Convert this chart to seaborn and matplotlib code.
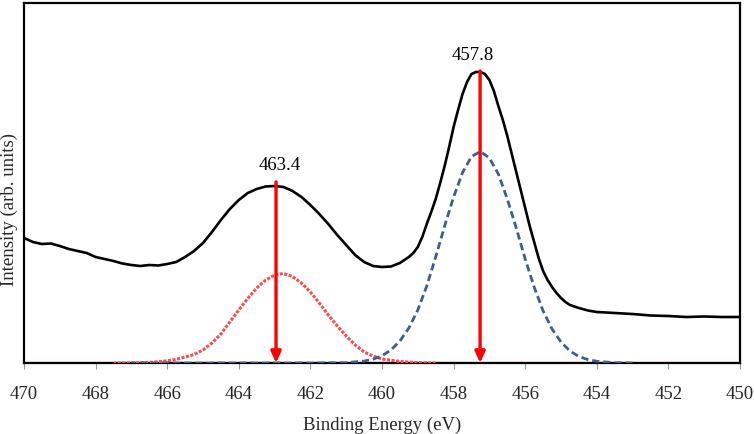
import numpy as np
import pandas as pd
import matplotlib
matplotlib.use("Agg")
import matplotlib.pyplot as plt
import seaborn as sns

energy = [470.0, 469.75, 469.5, 469.25, 469.0, 468.75, 468.5, 468.25, 468.0, 467.75,
          467.5, 467.25, 467.0, 466.75, 466.5, 466.25, 466.0, 465.75, 465.5, 465.25,
          465.0, 464.75, 464.5, 464.25, 464.0, 463.75, 463.5, 463.25, 463.0, 462.75,
          462.5, 462.25, 462.0, 461.75, 461.5, 461.25, 461.0, 460.75, 460.5, 460.25,
          460.0, 459.75, 459.5, 459.25, 459.125, 459.0, 458.875, 458.75, 458.625, 458.5,
          458.375, 458.25, 458.125, 458.0, 457.875, 457.75, 457.625, 457.5, 457.375, 457.25,
          457.125, 457.0, 456.875, 456.75, 456.625, 456.5, 456.375, 456.25, 456.125, 456.0,
          455.875, 455.75, 455.625, 455.5, 455.375, 455.25, 455.125, 455.0, 454.875, 454.75,
          454.5, 454.25, 454.0, 453.5, 453.0, 452.5, 452.0, 451.5, 451.0, 450.5,
          450.0]
intensity = [125, 121, 119, 119.5, 117, 114, 112, 110, 106, 104,
             102, 99.5, 98, 97, 98, 97.5, 99, 101, 106, 112,
             120, 131, 143, 154, 163, 170, 174, 176.5, 177, 176,
             172, 166, 158, 149, 139, 128, 118, 108, 101, 97,
             96, 96.5, 100, 106, 110, 116, 126, 139, 151, 164,
             180, 197, 216, 236, 253, 269, 281, 289, 291, 291,
             289, 283, 272, 257, 243, 227, 209, 191, 173, 155,
             137, 121, 105, 92, 83, 76, 70, 65, 61, 58,
             55, 52.5, 51, 50, 49, 47.5, 47, 46, 46.5, 46,
             46]

# fitted component at ~463 eV (red, dotted)
red_energy = [467.5, 467.0, 466.5, 466.0, 465.75, 465.5, 465.25, 465.0, 464.75, 464.5,
              464.25, 464.0, 463.75, 463.5, 463.25, 463.0, 462.75, 462.5, 462.25, 462.0,
              461.75, 461.5, 461.25, 461.0, 460.75, 460.5, 460.25, 460.0, 459.5, 459.0,
              458.5]
red_counts = [0, 0.1, 0.6, 2.1, 3.7, 6.0, 8.5, 13, 20, 29,
              41, 53, 64.5, 75, 83, 88, 89.5, 86.5, 80, 71,
              60, 48, 37, 27, 18, 11, 7, 4, 1.5, 0.4,
              0]

# fitted component at ~457 eV (blue, dashed)
blue_energy = [467.0, 462.0, 461.0, 460.5, 460.25, 460.0, 459.75, 459.5, 459.25, 459.0,
               458.75, 458.5, 458.25, 458.0, 457.75, 457.5, 457.25, 457.0, 456.75, 456.5,
               456.25, 456.0, 455.75, 455.5, 455.25, 455.0, 454.75, 454.5, 454.25, 454.0,
               453.5, 453.0]
blue_counts = [0, 0, 0.4, 1.9, 3.8, 7.2, 13, 22, 35, 53,
               77, 106, 137, 166, 190.5, 206.5, 211.5, 205, 189, 164,
               135, 104, 76, 52, 34, 21, 12, 6.5, 3.4, 1.7,
               0.3, 0]

# peak markers
peak_pos = [462.96, 457.26]
peak_top = [181, 292]
peak_text = ["463.4", "457.8"]
label_pos = [462.85, 457.46]
label_y = [198, 308]

xticks = list(range(470, 449, -2))

sns.set_theme(style="ticks")
plt.rcParams['font.family'] = ['Liberation Serif', 'DejaVu Serif']

fig = plt.figure(figsize=(7.54, 4.35), dpi=100)
ax = fig.add_axes([24 / 754, 1 - 364 / 435, 716 / 754, 360 / 435])

# baseline
ax.plot([470, 450], [0, 0], color="#ff2a2a", linewidth=1.6, zorder=2)

red_df = pd.DataFrame({"E": red_energy, "I": red_counts})
blue_df = pd.DataFrame({"E": blue_energy, "I": blue_counts})
env_df = pd.DataFrame({"E": energy, "I": intensity})

sns.lineplot(data=red_df, x="E", y="I", ax=ax, color="#ff4a4a",
             linewidth=2.2, linestyle=(0, (1, 0.5)), zorder=3)
sns.lineplot(data=blue_df, x="E", y="I", ax=ax, color="#3d5f8f",
             linewidth=2.0, linestyle=(0, (2.6, 1.4)), zorder=3)
sns.lineplot(data=env_df, x="E", y="I", ax=ax, color="black",
             linewidth=1.9, zorder=4)

for xp, yt in zip(peak_pos, peak_top):
    ax.annotate("", xy=(xp, 0), xytext=(xp, yt),
                arrowprops=dict(arrowstyle="-|>,head_length=0.55,head_width=0.25",
                                color="#ff0000", lw=2.4, shrinkA=0, shrinkB=0),
                zorder=5)

for xl, yl, t in zip(label_pos, label_y, peak_text):
    ax.text(xl, yl, t, ha="center", va="center", fontsize=13.5, color="black")

ax.set_xlim(470, 450)
ax.set_ylim(0, 360)
ax.set_xticks(xticks)
ax.set_xticklabels([str(t) for t in xticks], fontsize=13.5)
ax.set_yticks([])
ax.tick_params(axis="x", direction="out", length=4, width=0.8, color="#999999", pad=12)

for sp in ax.spines.values():
    sp.set_color("black")
    sp.set_linewidth(1.6)

ax.set_xlabel("Binding Energy (eV)", fontsize=13.5, labelpad=10)
ax.set_ylabel("Intensity (arb. units)", fontsize=13.5)
ax.yaxis.set_label_coords(-0.008, 0.43)

fig.savefig("out.png", dpi=100)
